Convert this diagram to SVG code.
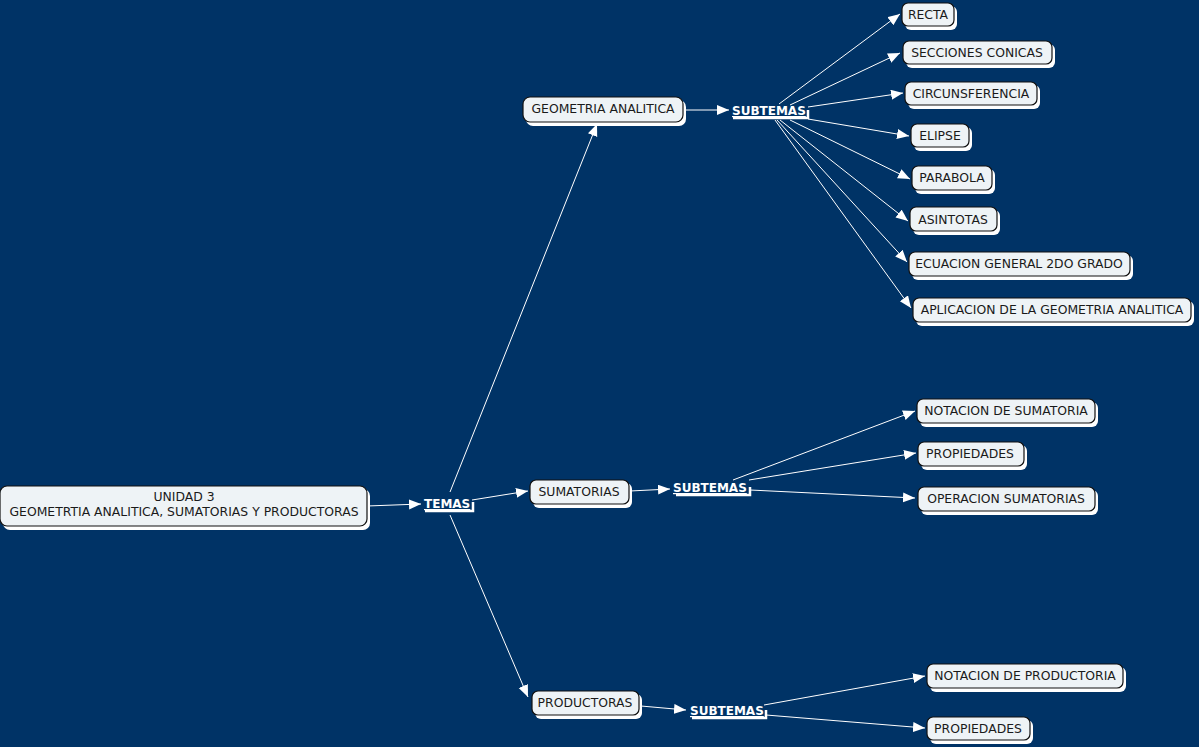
<svg xmlns="http://www.w3.org/2000/svg" width="1199" height="747" viewBox="0 0 1199 747">
<defs>
<style>
.sh{fill:#ffffff;stroke:none}
.bx{fill:#eef3f6;stroke:#111111;stroke-width:1.2}
.t{font-family:"DejaVu Sans",Verdana,sans-serif;font-size:12.4px;fill:#1a1a1a;text-anchor:middle}
.lb{font-family:"DejaVu Sans",Verdana,sans-serif;font-size:12px;font-weight:bold;fill:#ffffff;text-decoration:underline}
.br{fill:none;stroke:#ffffff;stroke-width:2.5}
.c{stroke:#ffffff;stroke-width:1;fill:none;marker-end:url(#ah)}
</style>
<marker id="ah" markerUnits="userSpaceOnUse" markerWidth="13" markerHeight="11" refX="12" refY="5" orient="auto">
<path d="M0,0 L12,5 L0,10 z" fill="#ffffff"/>
</marker>
</defs>
<rect width="1199" height="747" fill="#003366"/>

<g id="connectors">
<line class="c" x1="367" y1="506" x2="421" y2="504"/>
<line class="c" x1="450" y1="492" x2="597" y2="124"/>
<line class="c" x1="472" y1="500" x2="528" y2="491"/>
<line class="c" x1="450" y1="515" x2="528" y2="697"/>
<line class="c" x1="684" y1="110" x2="729" y2="110"/>
<line class="c" x1="779" y1="104" x2="900" y2="14"/>
<line class="c" x1="790" y1="105" x2="900" y2="53"/>
<line class="c" x1="808" y1="107" x2="903" y2="93"/>
<line class="c" x1="808" y1="119" x2="909" y2="136"/>
<line class="c" x1="790" y1="120" x2="910" y2="179"/>
<line class="c" x1="780" y1="120" x2="908" y2="221"/>
<line class="c" x1="777" y1="120" x2="907" y2="262"/>
<line class="c" x1="775" y1="120" x2="911" y2="308"/>
<line class="c" x1="630" y1="491" x2="670" y2="489"/>
<line class="c" x1="733" y1="480" x2="915" y2="411"/>
<line class="c" x1="749" y1="480" x2="916" y2="453"/>
<line class="c" x1="750" y1="490" x2="915" y2="498"/>
<line class="c" x1="641" y1="706" x2="686" y2="710"/>
<line class="c" x1="764" y1="705" x2="925" y2="676"/>
<line class="c" x1="766" y1="715" x2="925" y2="728"/>
</g>

<g id="root">
<rect class="sh" x="3" y="489" width="367" height="41" rx="7"/>
<rect class="bx" x="0" y="486" width="367" height="40" rx="7"/>
<text class="t" x="184" y="501">UNIDAD 3</text>
<text class="t" x="184" y="516">GEOMETRTIA ANALITICA, SUMATORIAS Y PRODUCTORAS</text>
</g>

<g id="temas">
<text class="lb" x="424" y="508">TEMAS</text>
<polyline class="br" points="425,511 473,511 473,502"/>
</g>

<g id="geometria">
<rect class="sh" x="526" y="100" width="160" height="26" rx="7"/>
<rect class="bx" x="523" y="97" width="160" height="25" rx="7"/>
<text class="t" x="603" y="113">GEOMETRIA ANALITICA</text>
</g>

<g id="subtemas-geo">
<text class="lb" x="732" y="115">SUBTEMAS</text>
<polyline class="br" points="733,118 808,118 808,110"/>
</g>

<g id="recta">
<rect class="sh" x="905" y="6" width="52" height="24" rx="6"/>
<rect class="bx" x="902" y="3" width="52" height="23" rx="6"/>
<text class="t" x="928" y="19">RECTA</text>
</g>
<g id="secciones">
<rect class="sh" x="906" y="44" width="149" height="24" rx="6"/>
<rect class="bx" x="903" y="41" width="149" height="23" rx="6"/>
<text class="t" x="977" y="57">SECCIONES CONICAS</text>
</g>
<g id="circunsferencia">
<rect class="sh" x="908" y="85" width="132" height="24" rx="6"/>
<rect class="bx" x="905" y="82" width="132" height="23" rx="6"/>
<text class="t" x="971" y="98">CIRCUNSFERENCIA</text>
</g>
<g id="elipse">
<rect class="sh" x="914" y="127" width="58" height="24" rx="6"/>
<rect class="bx" x="911" y="124" width="58" height="23" rx="6"/>
<text class="t" x="940" y="140">ELIPSE</text>
</g>
<g id="parabola">
<rect class="sh" x="915" y="169" width="80" height="25" rx="6"/>
<rect class="bx" x="912" y="166" width="80" height="24" rx="6"/>
<text class="t" x="952" y="182">PARABOLA</text>
</g>
<g id="asintotas">
<rect class="sh" x="913" y="210" width="87" height="25" rx="6"/>
<rect class="bx" x="910" y="207" width="87" height="24" rx="6"/>
<text class="t" x="953" y="224">ASINTOTAS</text>
</g>
<g id="ecuacion">
<rect class="sh" x="912" y="255" width="221" height="25" rx="6"/>
<rect class="bx" x="909" y="252" width="221" height="24" rx="6"/>
<text class="t" x="1019" y="268">ECUACION GENERAL 2DO GRADO</text>
</g>
<g id="aplicacion">
<rect class="sh" x="916" y="301" width="278" height="25" rx="6"/>
<rect class="bx" x="913" y="298" width="278" height="24" rx="6"/>
<text class="t" x="1052" y="314">APLICACION DE LA GEOMETRIA ANALITICA</text>
</g>

<g id="sumatorias">
<rect class="sh" x="533" y="483" width="99" height="25" rx="6"/>
<rect class="bx" x="530" y="480" width="99" height="24" rx="6"/>
<text class="t" x="579" y="496">SUMATORIAS</text>
</g>
<g id="subtemas-sum">
<text class="lb" x="673" y="492">SUBTEMAS</text>
<polyline class="br" points="676,495 750,495 750,487"/>
</g>
<g id="notacion-sum">
<rect class="sh" x="920" y="402" width="178" height="25" rx="6"/>
<rect class="bx" x="917" y="399" width="178" height="24" rx="6"/>
<text class="t" x="1006" y="415">NOTACION DE SUMATORIA</text>
</g>
<g id="propiedades-sum">
<rect class="sh" x="921" y="445" width="106" height="25" rx="6"/>
<rect class="bx" x="918" y="442" width="106" height="24" rx="6"/>
<text class="t" x="970" y="458">PROPIEDADES</text>
</g>
<g id="operacion">
<rect class="sh" x="921" y="490" width="177" height="25" rx="6"/>
<rect class="bx" x="918" y="487" width="177" height="24" rx="6"/>
<text class="t" x="1006" y="503">OPERACION SUMATORIAS</text>
</g>

<g id="productoras">
<rect class="sh" x="535" y="694" width="107" height="25" rx="6"/>
<rect class="bx" x="532" y="691" width="107" height="24" rx="6"/>
<text class="t" x="585" y="707">PRODUCTORAS</text>
</g>
<g id="subtemas-prod">
<text class="lb" x="690" y="715">SUBTEMAS</text>
<polyline class="br" points="692,718 766,718 766,710"/>
</g>
<g id="notacion-prod">
<rect class="sh" x="930" y="667" width="196" height="25" rx="6"/>
<rect class="bx" x="927" y="664" width="196" height="24" rx="6"/>
<text class="t" x="1025" y="680">NOTACION DE PRODUCTORIA</text>
</g>
<g id="propiedades-prod">
<rect class="sh" x="930" y="720" width="103" height="24" rx="6"/>
<rect class="bx" x="927" y="717" width="103" height="23" rx="6"/>
<text class="t" x="978" y="733">PROPIEDADES</text>
</g>
</svg>
